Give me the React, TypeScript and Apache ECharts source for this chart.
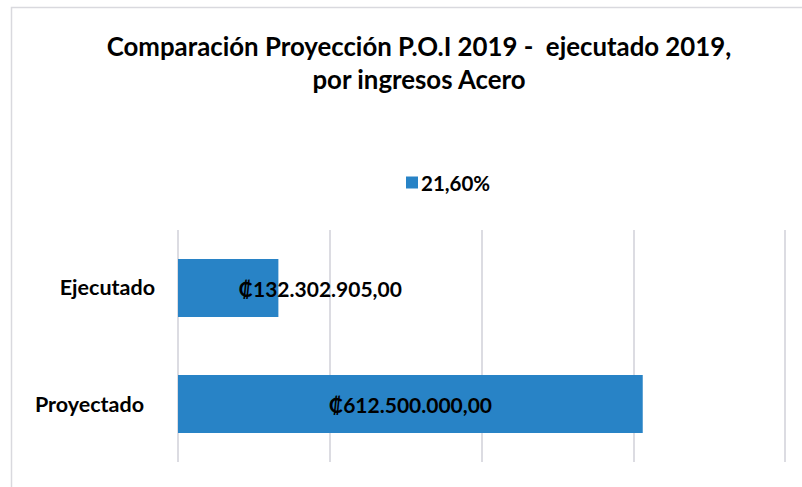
import React, { useEffect, useRef } from "react";
import * as echarts from "echarts";

const categories = ["Proyectado", "Ejecutado"];
const values = [612500000, 132302905];
const seriesName = "21,60%";
const titleText = "Comparación Proyección P.O.I 2019 -  ejecutado 2019,\npor ingresos Acero";
const xTicks = [0, 200000000, 400000000, 600000000, 800000000];

const FONT = "Lato, 'Open Sans', sans-serif";

function fmt(v: number): string {
  const parts = v.toFixed(2).split(".");
  const intPart = parts[0].replace(/\B(?=(\d{3})+(?!\d))/g, ".");
  return "₡" + intPart + "," + parts[1];
}

export default function App() {
  const ref = useRef<HTMLDivElement>(null);
  useEffect(() => {
    if (!ref.current) return;
    const chart = echarts.init(ref.current, null, { renderer: "svg" });
    chart.setOption({
      animation: false,
      backgroundColor: "#ffffff",
      graphic: [
        {
          type: "rect",
          shape: { x: 11.5, y: 7.5, width: 820, height: 520 },
          style: { fill: "none", stroke: "#D9D9DE", lineWidth: 1.5 },
          silent: true,
          z: -1,
        },
      ],
      title: {
        text: titleText,
        left: 414,
        textAlign: "center",
        top: 24,
        textStyle: {
          fontFamily: FONT,
          fontWeight: "bold",
          fontSize: 25.8,
          lineHeight: 33,
          color: "#000000",
        },
      },
      legend: {
        data: [seriesName],
        left: 401,
        top: 167,
        itemWidth: 12,
        itemHeight: 12,
        itemGap: 6,
        icon: "rect",
        textStyle: {
          fontFamily: FONT,
          fontWeight: "bold",
          fontSize: 20.5,
          color: "#000000",
          padding: [0, 0, 0, -2],
        },
      },
      grid: { left: 178, right: 17, top: 230, bottom: 25, containLabel: false },
      xAxis: {
        type: "value",
        min: xTicks[0],
        max: xTicks[xTicks.length - 1],
        interval: xTicks[1] - xTicks[0],
        axisLabel: { show: false },
        axisLine: { show: false },
        axisTick: { show: false },
        splitLine: { show: true, lineStyle: { color: "#DCDCE2", width: 2 } },
      },
      yAxis: {
        type: "category",
        data: categories,
        axisLine: { show: false },
        axisTick: { show: false },
        axisLabel: {
          margin: 23,
          fontFamily: FONT,
          fontWeight: "bold",
          fontSize: 21.5,
          color: "#000000",
          formatter: (v: string) => (v === "Proyectado" ? "{p|" + v + "}" : "{e|" + v + "}"),
          rich: {
            p: { fontFamily: FONT, fontWeight: "bold", fontSize: 21.5, color: "#000", padding: [0, 11, 0, 0] },
            e: { fontFamily: FONT, fontWeight: "bold", fontSize: 21.5, color: "#000", padding: [0, 0, 3, 0] },
          },
        },
      },
      series: [
        {
          name: seriesName,
          type: "bar",
          barWidth: 58,
          itemStyle: { color: "#2883C6" },
          data: values.map((v, i) =>
            i === 1
              ? { value: v, label: { position: "inside", offset: [92, 0] } }
              : { value: v }
          ),
          label: {
            show: true,
            position: "inside",
            formatter: (p: any) => fmt(p.value),
            fontFamily: FONT,
            fontWeight: "bold",
            fontSize: 21,
            color: "#000000",
          },
        },
      ],
    });
    return () => chart.dispose();
  }, []);
  return <div ref={ref} style={{ width: 802, height: 487, position: "absolute", left: 0, top: 0 }} />;
}
